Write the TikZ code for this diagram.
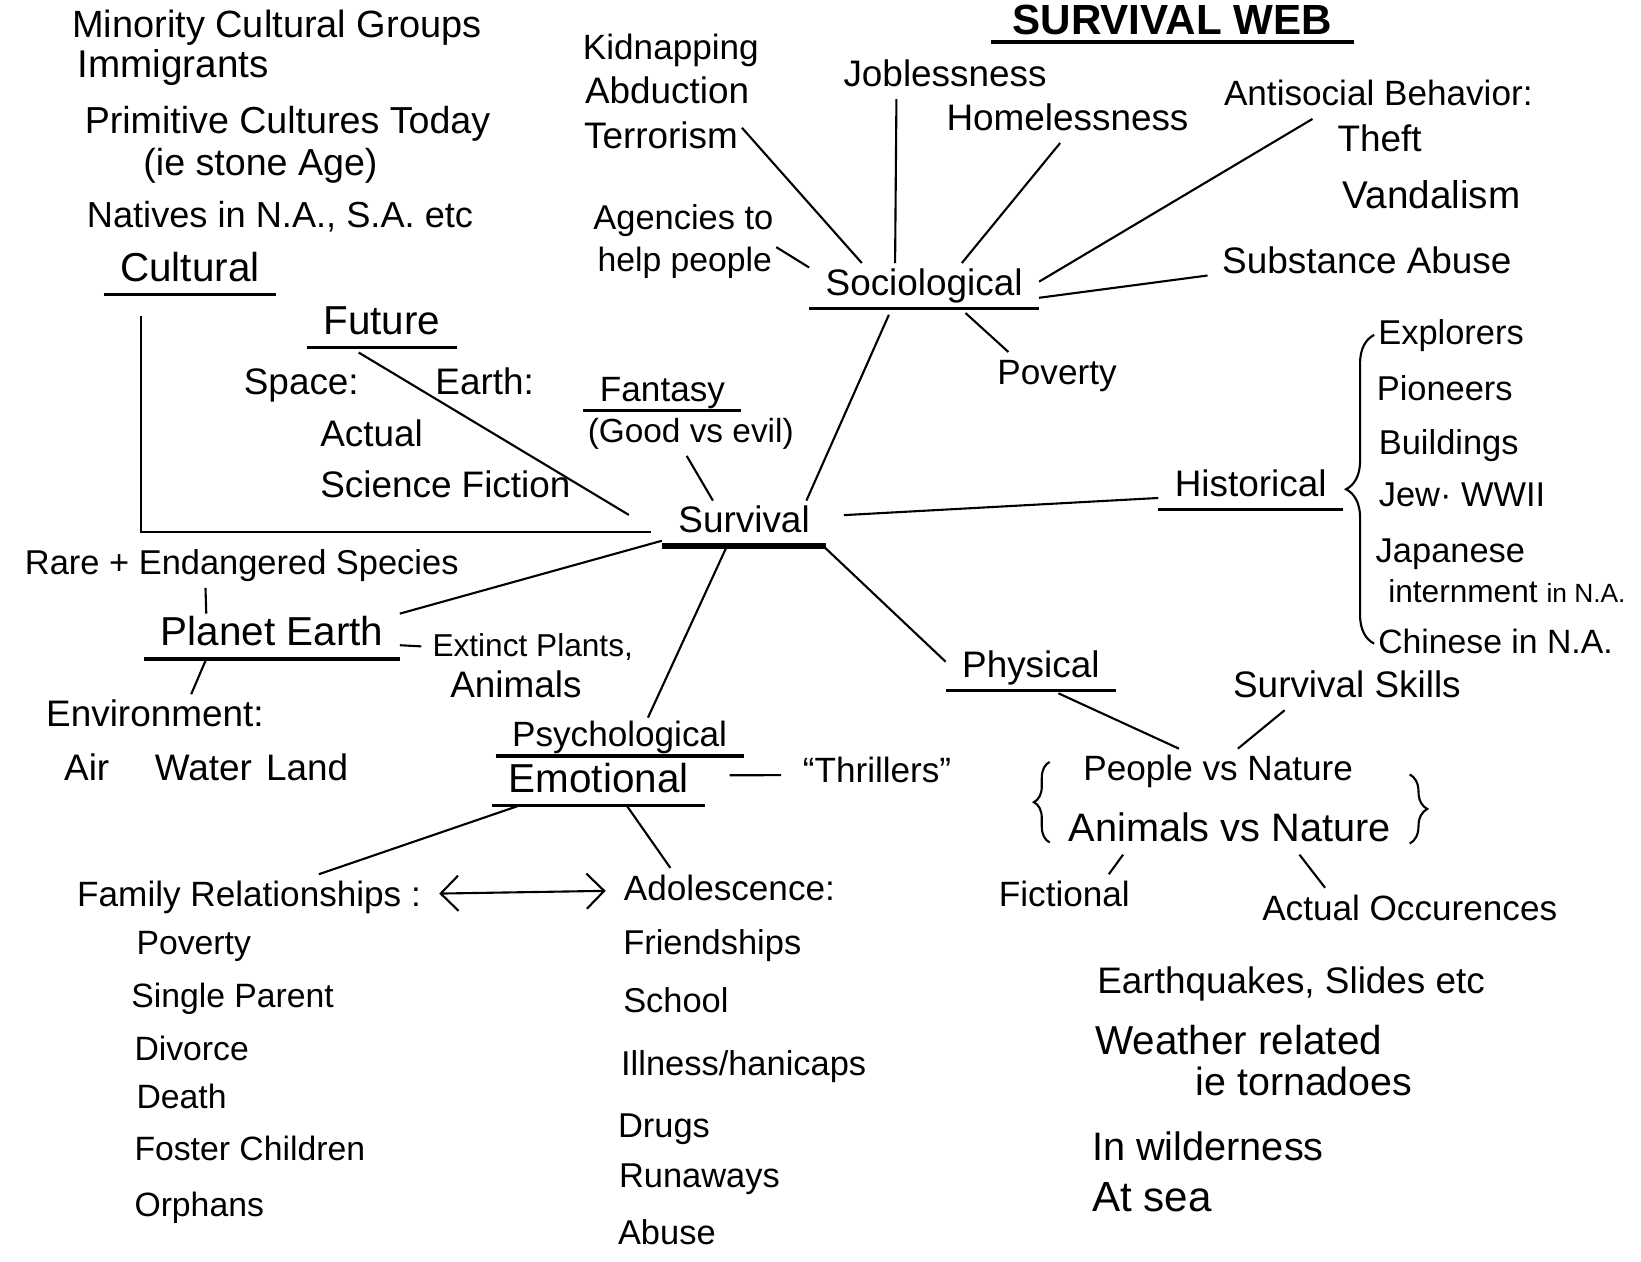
\documentclass[tikz,border=0pt]{standalone}
\usepackage{fontspec}
\setmainfont{Liberation Sans}
\usetikzlibrary{decorations.pathreplacing,arrows.meta}
\newcommand{\fsz}[1]{\fontsize{#1}{#1}\selectfont}
\tikzset{
  txt/.style={inner xsep=1pt, inner ysep=1pt, text height=8pt, text depth=2.5pt, font=\fsz{10.5}},
  item/.style={txt, anchor=west},
  head/.style={txt, inner xsep=4.5pt},
  uline/.style={line width=0.9pt},
  link/.style={line width=0.6pt},
  brc/.style={decorate, decoration={brace, amplitude=#1}, line width=0.6pt},
}
\begin{document}
\begin{tikzpicture}[x=0.010466cm, y=-0.010466cm]
  \fill[white] (0,0) rectangle (1568,1205);
  \useasboundingbox (0,0) rectangle (1568,1205);

  % title and centre
  \node[head, font=\bfseries\fsz{12}, text depth=1pt, inner xsep=6pt] (title) at (1120,21) {SURVIVAL WEB};
  \node[head] (surv) at (711,500) {Survival};

  % cultural
  \node[item, font=\fsz{10.8}] (minor) at (65,27) {Minority Cultural Groups};
  \node[item, font=\fsz{11}] (immig) at (70,65) {Immigrants};
  \node[item, font=\fsz{10.7}] (prim) at (77,118) {Primitive Cultures Today};
  \node[item, font=\fsz{10.7}] (stone) at (133,158) {(ie stone Age)};
  \node[item, font=\fsz{10.3}] (natives) at (79,208) {Natives in N.A., S.A. etc};
  \node[head, font=\fsz{11.5}] (cult) at (181.5,260) {Cultural};

  % future
  \node[head, font=\fsz{11.5}] (fut) at (365,310) {Future};
  \node[item] (space) at (229,368) {Space:};
  \node[item] (earth) at (412,368) {Earth:};
  \node[item] (actual) at (302,417) {Actual};
  \node[item] (scifi) at (302,466) {Science Fiction};

  % fantasy
  \node[head, font=\fsz{10}, inner ysep=0pt] (fan) at (633,374) {Fantasy};
  \node[txt, font=\fsz{9.5}] (good) at (660,414) {(Good vs evil)};

  % sociological
  \node[head] (soc) at (883,273) {Sociological};
  \node[item, font=\fsz{10}] (kid) at (553,48) {Kidnapping};
  \node[item] (abd) at (555,90) {Abduction};
  \node[item] (terr) at (554,133) {Terrorism};
  \node[item, font=\fsz{9.8}] (agen) at (563,210) {Agencies to};
  \node[item, font=\fsz{9.6}] (help) at (567,250) {help people};
  \node[txt] (job) at (903,73) {Joblessness};
  \node[txt] (home) at (1020,115) {Homelessness};
  \node[txt, font=\fsz{10}] (anti) at (1317,92) {Antisocial Behavior:};
  \node[item] (theft) at (1274,136) {Theft};
  \node[item, font=\fsz{11}] (vand) at (1279,190) {Vandalism};
  \node[txt] (subst) at (1306,252) {Substance Abuse};
  \node[txt, font=\fsz{10}] (pov1) at (1010,358) {Poverty};

  % historical
  \node[head] (hist) at (1195,465) {Historical};
  \node[item, font=\fsz{9.8}] (expl) at (1313,320) {Explorers};
  \node[item, font=\fsz{9.8}] (pion) at (1311.5,373) {Pioneers};
  \node[item, font=\fsz{9.8}] (build) at (1313.5,425) {Buildings};
  \node[item, font=\fsz{9.8}] (jew) at (1313.5,475) {Jew· WWII};
  \node[item, font=\fsz{9.8}] (jap) at (1310.5,528) {Japanese};
  \node[item, font=\fsz{9}] (intern) at (1322.5,566) {internment {\fsz{7.5}in N.A.}};
  \node[item, font=\fsz{9.6}] (chin) at (1313,615) {Chinese in N.A.};

  % physical
  \node[head] (phys) at (985,638) {Physical};
  \node[txt] (skills) at (1287,657) {Survival Skills};
  \node[txt, font=\fsz{10}] (people) at (1164,737) {People vs Nature};
  \node[txt, font=\fsz{11.3}] (animals) at (1175,795) {Animals vs Nature};
  \node[txt, font=\fsz{10}] (fict) at (1017,857) {Fictional};
  \node[txt, font=\fsz{10}] (actoc) at (1347,870) {Actual Occurences};
  \node[item] (quake) at (1044.5,940) {Earthquakes, Slides etc};
  \node[item, font=\fsz{11.5}] (weather) at (1042.5,998) {Weather related};
  \node[item, font=\fsz{11.2}] (torn) at (1138.5,1038) {ie tornadoes};
  \node[item, font=\fsz{11.3}] (wild) at (1039.5,1100) {In wilderness};
  \node[item, font=\fsz{12}] (sea) at (1039.5,1148) {At sea};

  % planet earth
  \node[head, font=\fsz{11.5}] (planet) at (260,608) {Planet Earth};
  \node[txt, font=\fsz{9.8}] (rare) at (231,540) {Rare + Endangered Species};
  \node[txt, font=\fsz{9}] (ext) at (509,618) {Extinct Plants,};
  \node[txt] (anim) at (493,657) {Animals};
  \node[txt] (env) at (148,685) {Environment:};
  \node[txt] (awl) at (197,737) {Air\hspace{13pt}Water\hspace{4pt}Land};

  % psychological
  \node[head, font=\fsz{10}, inner ysep=0pt] (psych) at (592,704) {Psychological};
  \node[head, font=\fsz{11.5}] (emo) at (572,748) {Emotional};
  \node[txt, font=\fsz{10}] (thrill) at (838,738) {“Thrillers”};
  \node[txt, font=\fsz{10}] (family) at (238,857) {Family Relationships :};
  \node[txt, font=\fsz{10}] (adol) at (697,851) {Adolescence:};
  \node[item, font=\fsz{9.6}] (pov2) at (126.5,903) {Poverty};
  \node[item, font=\fsz{9.6}] (single) at (121.5,953) {Single Parent};
  \node[item, font=\fsz{9.6}] (divorce) at (124.5,1004) {Divorce};
  \node[item, font=\fsz{9.6}] (death) at (126.5,1050) {Death};
  \node[item, font=\fsz{9.6}] (foster) at (124.5,1100) {Foster Children};
  \node[item, font=\fsz{9.6}] (orph) at (124.5,1153) {Orphans};
  \node[item, font=\fsz{9.8}] (friend) at (591.5,903) {Friendships};
  \node[item, font=\fsz{9.8}] (school) at (591.5,958) {School};
  \node[item, font=\fsz{9.8}] (ill) at (589.5,1018) {Illness/hanicaps};
  \node[item, font=\fsz{9.8}] (drugs) at (586.5,1078) {Drugs};
  \node[item, font=\fsz{9.8}] (run) at (587.5,1125) {Runaways};
  \node[item, font=\fsz{9.8}] (abuse) at (586.5,1180) {Abuse};

  % underlines
  \foreach \n in {title,cult,fut,fan,soc,hist,phys,planet,psych,emo}
    \draw[uline] (\n.south west) -- (\n.south east);
  \draw[line width=1.6pt] (surv.south west) -- (surv.south east);

  % spokes of survival
  \draw[link, shorten >=2pt] (surv.20) -- (soc.215);
  \draw[link, shorten <=5pt] (surv.5) -- (hist.187);
  \draw[link] (surv.-16) -- (phys.176);
  \draw[link] (surv.233) -- (psych.34);
  \draw[link] (surv.192) -- (planet.north east);
  \draw[link, shorten <=6pt, shorten >=3pt] (cult.205) |- (surv.186);
  \draw[link, shorten <=3pt, shorten >=11pt] (fut.215) -- (surv.188);
  \draw[link] (good.260) -- (surv.144);

  % sociological
  \draw[link] (terr.8) -- (soc.160);
  \draw[link] (help.9) -- (soc.171);
  \draw[link] (job.205) -- (soc.142);
  \draw[link] (home.252) -- (soc.31);
  \draw[link] (anti.199) -- (soc.2);
  \draw[link, shorten <=3pt] (subst.184) -- (soc.-6);
  \draw[link, shorten <=2pt] (soc.-32) -- (pov1.155);

  % historical
  \draw[brc=8pt] (chin.west) -- (expl.west);

  % physical
  \draw[link, shorten <=2pt] (phys.-47) -- (people.150);
  \draw[link] (skills.200) -- (people.49);
  \draw[link] (animals.192) -- (fict.27);
  \draw[link] (animals.-18) -- (actoc.165);
  \draw[brc=4.5pt] (1003,805) -- (1003,728);
  \draw[brc=5pt] (1347,740) -- (1347,806);

  % planet earth
  \draw[link] (rare.212) -- (planet.161);
  \draw[link, shorten >=2pt] (planet.-4) -- (ext.west);
  \draw[link] (planet.199) -- (env.32);

  % psychological
  \draw[link, shorten <=7pt, shorten >=5pt] (emo.4) -- (thrill.182);
  \draw[link] (emo.196) -- (family.18);
  \draw[link] (emo.-39) -- (adol.159);
  \draw[link, {Straight Barb[length=5pt]}-{Straight Barb[length=5pt]}, shorten <=4pt, shorten >=4pt] (family.1) -- (adol.west);
\end{tikzpicture}
\end{document}
